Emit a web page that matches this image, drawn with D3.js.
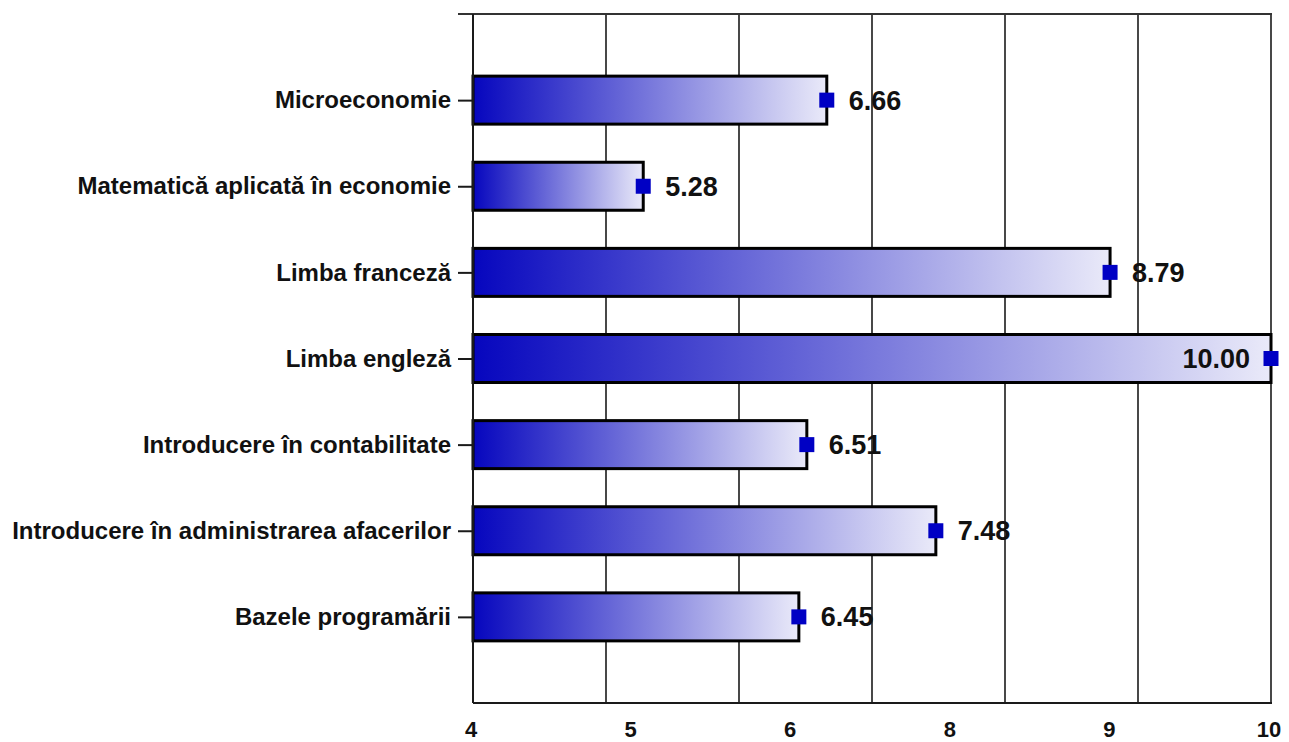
<!DOCTYPE html>
<html>
<head>
<meta charset="utf-8">
<script src="https://cdn.jsdelivr.net/npm/d3@7"></script>
<style>
  html, body { margin: 0; padding: 0; background: #fff; }
  svg { display: block; font-family: "Liberation Sans", Arial, sans-serif; }
</style>
</head>
<body>
<svg id="chart" width="1289" height="742"></svg>
<script>
const categories = [
  "Microeconomie",
  "Matematică aplicată în economie",
  "Limba franceză",
  "Limba engleză",
  "Introducere în contabilitate",
  "Introducere în administrarea afacerilor",
  "Bazele programării"
];
const values = [6.66, 5.28, 8.79, 10.00, 6.51, 7.48, 6.45];
const gridValues = [5, 6, 7, 8, 9, 10];
const tickLabels = ["4", "5", "6", "8", "9", "10"];
const xDomain = [4, 10];

const W = 1289, H = 742;
const margin = { left: 473, right: 18, top: 14, bottom: 39 };
const plotL = margin.left, plotR = W - margin.right;
const plotT = margin.top, plotB = H - margin.bottom;

const svg = d3.select("#chart");

const x = d3.scaleLinear().domain(xDomain).range([plotL, plotR]);
const y = d3.scalePoint().domain(categories).range([plotT, plotB]).padding(1);
const barH = 48;

// gradient
const defs = svg.append("defs");
const grad = defs.append("linearGradient").attr("id", "barGrad")
  .attr("x1", "0%").attr("x2", "100%").attr("y1", "0%").attr("y2", "0%");
grad.append("stop").attr("offset", "0%").attr("stop-color", "#0606be");
grad.append("stop").attr("offset", "100%").attr("stop-color", "#eaeaf9");

// gridlines
svg.append("g").selectAll("line").data(gridValues).join("line")
  .attr("x1", d => x(d)).attr("x2", d => x(d))
  .attr("y1", plotT).attr("y2", plotB)
  .attr("stroke", "#1a1a1a").attr("stroke-width", 1.6);

// top frame line
svg.append("line")
  .attr("x1", plotL - 15).attr("x2", plotR + 1)
  .attr("y1", plotT).attr("y2", plotT)
  .attr("stroke", "#333").attr("stroke-width", 2.2);

// bottom axis line
svg.append("line")
  .attr("x1", plotL).attr("x2", plotR + 1)
  .attr("y1", plotB).attr("y2", plotB)
  .attr("stroke", "#1a1a1a").attr("stroke-width", 2);

// bars
const data = categories.map((c, i) => ({ c, v: values[i] }));
svg.append("g").selectAll("rect").data(data).join("rect")
  .attr("x", x(xDomain[0]))
  .attr("y", d => y(d.c) - barH / 2)
  .attr("width", d => x(d.v) - x(xDomain[0]))
  .attr("height", barH)
  .attr("fill", "url(#barGrad)")
  .attr("stroke", "#000").attr("stroke-width", 3);

// left axis
const yAxis = d3.axisLeft(y).tickSize(15).tickPadding(7).tickSizeOuter(0);
const gy = svg.append("g").attr("transform", `translate(${plotL},0)`).call(yAxis);
gy.select(".domain").attr("stroke", "#1a1a1a").attr("stroke-width", 2)
  .attr("d", `M0,${plotT}V${plotB}`);
gy.selectAll(".tick line").attr("stroke", "#1a1a1a").attr("stroke-width", 2);
gy.selectAll(".tick text")
  .attr("font-family", "'Liberation Sans', Arial, sans-serif")
  .attr("font-size", 24).attr("font-weight", "bold").attr("fill", "#111");

// markers
const ms = 15;
svg.append("g").selectAll("rect").data(data).join("rect")
  .attr("x", d => x(d.v) - ms / 2)
  .attr("y", d => y(d.c) - ms / 2)
  .attr("width", ms).attr("height", ms)
  .attr("fill", "#0000c4");

// value labels
svg.append("g").selectAll("text").data(data).join("text")
  .attr("x", d => d.v >= xDomain[1] ? x(d.v) - 21 : x(d.v) + 22)
  .attr("y", d => y(d.c))
  .attr("dy", "0.35em")
  .attr("text-anchor", d => d.v >= xDomain[1] ? "end" : "start")
  .attr("font-size", 27).attr("font-weight", "bold").attr("fill", "#111")
  .text(d => d.v.toFixed(2));

// bottom tick labels (as in the original: evenly spaced labels)
const xl = d3.scalePoint().domain(tickLabels).range([plotL - 2, plotR - 2]);
const gx = svg.append("g");
gx.selectAll("text").data(tickLabels).join("text")
  .attr("x", d => xl(d))
  .attr("y", plotB + 34)
  .attr("text-anchor", "middle")
  .attr("font-size", 22).attr("font-weight", "bold").attr("fill", "#111")
  .text(d => d);
</script>
</body>
</html>
